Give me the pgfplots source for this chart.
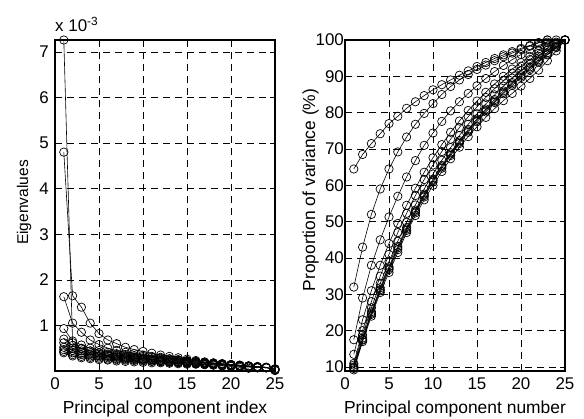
\documentclass[border=0pt]{standalone}
\usepackage{fontspec}
\setmainfont{Liberation Sans}
\usepackage{pgfplots}
\usepackage{pgfplotstable}
\pgfplotsset{compat=1.18}

% eigenvalues, in units of 1e-3
\pgfplotstableread{
n  L1    L2    L3    L4    L5    L6    L7    L8    L9    L10
1  7.26  4.80  1.63  0.93  0.70  0.62  0.52  0.47  0.43  0.40
2  0.62  1.65  1.05  0.66  0.56  0.50  0.45  0.40  0.36  0.33
3  0.50  1.40  0.85  0.57  0.49  0.44  0.40  0.36  0.32  0.29
4  0.44  1.05  0.68  0.50  0.44  0.40  0.37  0.33  0.30  0.27
5  0.40  0.82  0.58  0.45  0.40  0.37  0.34  0.31  0.28  0.25
6  0.37  0.68  0.50  0.41  0.37  0.34  0.32  0.29  0.26  0.24
7  0.34  0.60  0.45  0.38  0.35  0.32  0.30  0.27  0.25  0.22
8  0.31  0.52  0.41  0.36  0.33  0.30  0.28  0.26  0.24  0.21
9  0.29  0.47  0.38  0.34  0.31  0.28  0.27  0.25  0.23  0.20
10 0.27  0.43  0.35  0.32  0.29  0.27  0.25  0.24  0.22  0.19
11 0.25  0.39  0.32  0.30  0.27  0.25  0.24  0.22  0.21  0.18
12 0.23  0.35  0.30  0.28  0.26  0.24  0.23  0.21  0.20  0.18
13 0.21  0.32  0.27  0.26  0.24  0.23  0.21  0.20  0.19  0.17
14 0.19  0.29  0.25  0.24  0.23  0.21  0.20  0.19  0.18  0.16
15 0.17  0.26  0.23  0.22  0.21  0.20  0.19  0.18  0.17  0.15
16 0.16  0.23  0.21  0.20  0.20  0.19  0.18  0.17  0.16  0.15
17 0.14  0.20  0.19  0.19  0.18  0.18  0.17  0.16  0.15  0.14
18 0.13  0.18  0.17  0.17  0.17  0.16  0.16  0.15  0.14  0.13
19 0.11  0.16  0.15  0.16  0.15  0.15  0.15  0.14  0.13  0.12
20 0.10  0.14  0.13  0.14  0.14  0.14  0.13  0.13  0.12  0.11
21 0.08  0.12  0.11  0.12  0.13  0.12  0.12  0.12  0.11  0.10
22 0.06  0.10  0.09  0.11  0.11  0.11  0.11  0.10  0.10  0.09
23 nan   0.07  0.07  0.09  0.10  0.09  0.09  0.09  0.09  0.08
24 nan   nan   nan   0.07  0.08  0.08  0.08  0.08  0.07  0.07
25 nan   nan   nan   nan   nan   0.01  0.02  0.03  0.05  0.04
}\eigtab

% cumulative proportion of variance, %
\pgfplotstableread{
n  R1    R2    R3    R4    R5    R6    R7    R8    R9    R10
1  64.5  32.0  17.5  13.5  11.0  10.5  10.0  9.6   9.2   9.8
2  68.5  43.0  29.0  23.0  20.0  18.8  18.0  17.4  17.0  17.6
3  71.5  52.0  38.0  31.0  28.0  26.3  25.2  24.5  24.0  24.8
4  74.2  59.0  45.0  38.0  35.0  33.0  31.8  31.0  30.5  31.3
5  77.0  64.5  51.3  44.0  41.0  39.0  37.6  36.8  36.0  37.2
6  79.0  69.2  57.0  49.5  47.0  44.6  43.2  42.3  41.5  42.8
7  81.2  73.3  62.3  54.5  52.3  49.8  48.4  47.6  47.0  48.0
8  83.0  76.8  66.8  59.2  57.2  54.6  53.2  52.4  51.7  52.8
9  84.7  79.8  71.0  63.6  61.6  59.0  57.6  56.8  56.0  57.2
10 86.3  82.5  74.4  67.6  65.6  63.1  61.7  60.9  60.0  61.3
11 87.7  85.0  77.6  71.2  69.3  66.9  65.5  64.7  63.8  65.1
12 89.0  87.2  80.5  74.6  72.7  70.4  69.0  68.2  67.3  68.6
13 90.3  89.0  83.0  77.7  75.9  73.7  72.3  71.5  70.5  71.9
14 91.5  90.5  85.3  80.6  78.9  76.8  75.4  74.6  73.4  75.0
15 92.7  91.9  87.4  83.2  81.6  79.7  78.3  77.5  76.1  77.9
16 93.8  93.1  89.4  85.6  84.2  82.4  81.0  80.2  78.7  80.6
17 94.9  94.3  91.3  87.9  86.6  84.9  83.6  82.8  81.1  83.2
18 95.9  95.4  93.0  90.0  88.8  87.3  86.0  85.2  83.3  85.6
19 96.8  96.4  94.6  92.0  90.9  89.5  88.3  87.5  85.3  87.9
20 97.7  97.4  96.0  93.8  92.8  91.6  90.5  89.7  87.3  90.1
21 98.5  98.3  97.3  95.5  94.6  93.6  92.6  91.8  89.4  92.2
22 99.3  99.2  98.5  97.0  96.3  95.5  94.6  93.9  91.7  94.2
23 100   100   99.4  98.4  97.8  97.2  96.5  95.9  94.3  96.1
24 nan   nan   100   99.4  99.1  98.7  98.3  97.9  97.0  98.0
25 nan   nan   nan   100   100   100   100   100   100   100
}\vartab

\pgfplotsset{
  matlab/.style={
    scale only axis, width=220bp, height=331bp,
    xmin=0, xmax=25, xtick={0,5,...,25},
    axis line style={line width=1.1pt},
    tick style={black, line width=0.6pt},
    major tick length=5bp,
    tick align=inside,
    grid=major,
    major grid style={black, dash pattern=on 7bp off 5bp, line width=0.6pt},
    font=\fontsize{17}{20}\selectfont,
    /pgf/number format/assume math mode=true,
    xticklabel style={yshift=-3.6bp},
    unbounded coords=discard,
    clip=false,
  },
  ser/.style={black, line width=0.6pt, mark=o, mark size=4.2bp,
    mark options={solid, line width=0.7pt, fill=none}},
}

\begin{document}
\begin{tikzpicture}
\useasboundingbox (-55bp,-48bp) rectangle (529bp,371bp);
\begin{axis}[matlab, at={(0,0)},
    ymin=0, ymax=7.26, ytick={1,2,...,7},
    yticklabel style={xshift=-2.6bp}]
  \foreach \s in {L1,L2,L3,L4,L5,L6,L7,L8,L9,L10}{
    \addplot[ser] table[x=n, y=\s] {\eigtab};
  }
\end{axis}
\node[anchor=base west, font=\fontsize{17}{20}\selectfont, inner sep=0pt] at (0bp,339bp) {x 10\textsuperscript{-3}};
\node[rotate=90, anchor=base, font=\fontsize{15.6}{18}\selectfont, inner sep=0pt] at (-27bp,168.5bp) {Eigenvalues};
\node[anchor=base, font=\fontsize{17.5}{20}\selectfont, inner sep=0pt] at (110bp,-42bp) {Principal component index};

\begin{axis}[matlab, at={(290bp,0)},
    ymin=8.9, ymax=100, ytick={10,20,...,100},
    yticklabel style={xshift=2.4bp}]
  \foreach \s in {R1,R2,R3,R4,R5,R6,R7,R8,R9,R10}{
    \addplot[ser] table[x=n, y=\s] {\vartab};
  }
\end{axis}
\node[rotate=90, anchor=base, font=\fontsize{17.5}{20}\selectfont, inner sep=0pt] at (260bp,181bp) {Proportion of variance (\%)};
\node[anchor=base, font=\fontsize{17.5}{20}\selectfont, inner sep=0pt] at (400bp,-42bp) {Principal component number};
\end{tikzpicture}
\end{document}
